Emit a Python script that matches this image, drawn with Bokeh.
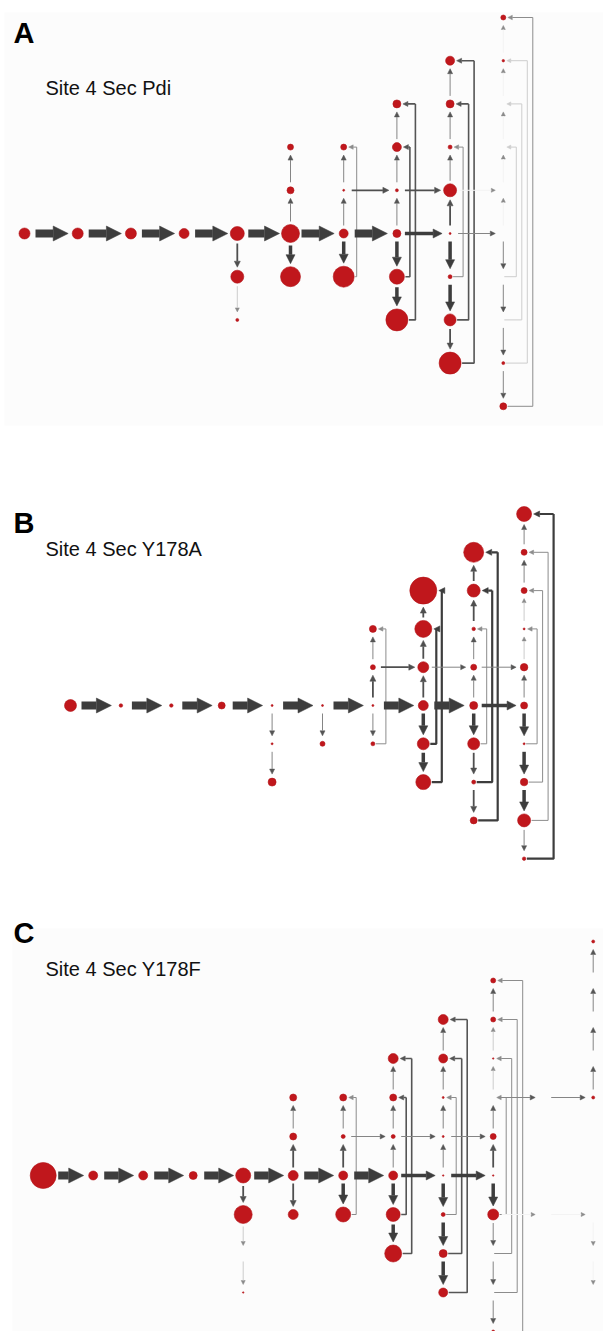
from bokeh.plotting import figure
from bokeh.models import ColumnDataSource, Arrow, NormalHead, Label, Range1d, BoxAnnotation
from bokeh.layouts import column
from bokeh.embed import file_html
from bokeh.resources import INLINE

# ---------------------------------------------------------------------------
# Transition networks: nodes sit on a (step column, row) grid, node size is the
# population, flows are weighted transitions, returns are feedback loops.
# Flow weight classes: xl > l > m > s > f > g (faint / ghost)
# ---------------------------------------------------------------------------

# Panel A - Site 4 Sec Pdi
A_node_col = [0, 1, 2, 3, 4, 4, 4, 5, 5, 5, 5, 6, 6, 6, 6, 7, 7, 7, 7, 7, 7,
              8, 8, 8, 8, 8, 8, 8, 8, 9, 9, 9, 9]
A_node_row = [0, 0, 0, 0, 0, 1, 2, 0, 1, -1, -2, 0, 1, -1, -2, 0, 1, 2, -1, -2, -3,
              -4, -3, -2, -1, 0, 1, 2, 3, -5, -4, 3, 4]
A_node_size = [11, 11, 11, 10, 14, 13, 3, 18, 20, 7, 6, 9, 21, 2, 6, 8, 15, 22, 3, 9, 8,
               9, 8, 4, 13, 2, 4, 12, 22, 5, 2.5, 3, 7]
A_flows = [
    (0, 0, 1, 0, "xl"), (1, 0, 2, 0, "xl"), (2, 0, 3, 0, "xl"), (3, 0, 4, 0, "xl"),
    (4, 0, 5, 0, "xl"), (5, 0, 6, 0, "xl"), (6, 0, 7, 0, "xl"), (7, 0, 8, 0, "l"),
    (8, 0, 9, 0, "s"),
    (6, -1, 7, -1, "m"), (7, -1, 8, -1, "m"), (8, -1, 9, -1, "g"),
    (4, 0, 4, 1, "m"), (4, 1, 4, 2, "f"),
    (5, 0, 5, 1, "l"), (5, 0, 5, -1, "s"), (5, -1, 5, -2, "s"),
    (6, 0, 6, 1, "l"), (6, 0, 6, -1, "s"), (6, -1, 6, -2, "s"),
    (7, 0, 7, 1, "l"), (7, 1, 7, 2, "l"), (7, 0, 7, -1, "s"), (7, -1, 7, -2, "s"),
    (7, -2, 7, -3, "s"),
    (8, 0, 8, 1, "l"), (8, 1, 8, 2, "l"), (8, 2, 8, 3, "m"), (8, 0, 8, -1, "m"),
    (8, -1, 8, -2, "s"), (8, -2, 8, -3, "s"), (8, -3, 8, -4, "s"),
    (9, 0, 9, 1, "s"), (9, 1, 9, 2, "s"), (9, 2, 9, 3, "s"), (9, 3, 9, 4, "s"),
    (9, 0, 9, -1, "g"), (9, -1, 9, -2, "g"), (9, -2, 9, -3, "g"), (9, -3, 9, -4, "g"),
    (9, -4, 9, -5, "g"),
]
A_returns = [
    (6, 1, -2, "s"),
    (7, 1, -2, "m"), (7, 2, -3, "m"),
    (8, 1, -2, "s"), (8, 2, -3, "m"), (8, 3, -4, "m"),
    (9, 1, -2, "f"), (9, 2, -3, "f"), (9, 3, -4, "f"), (9, 4, -5, "s"),
]

# Panel B - Site 4 Sec Y178A
B_node_col = [0, 1, 2, 3, 4, 4, 4, 5, 5, 6, 6, 6, 6, 7, 7, 7, 7, 7, 7,
              8, 8, 8, 8, 8, 8, 8, 8, 9, 9, 9, 9, 9, 9, 9, 9, 9, 9]
B_node_row = [0, 0, 0, 0, 0, 1, 2, 0, 1, 0, -1, -2, 1, -3, -2, -1, 0, 1, 2,
              -4, -3, -2, -1, 0, 1, 2, 3, -5, -4, -3, -2, -1, 0, 1, 2, 3, 4]
B_node_size = [12, 3.5, 3.5, 7, 2, 2, 8, 2, 5, 2, 5, 7, 4, 27, 17, 11, 10, 12, 15,
               20, 13, 3.5, 6, 8, 12, 4, 7, 15, 6, 6, 2, 7.5, 7, 2, 7.5, 13, 3.5]
B_flows = [
    (0, 0, 1, 0, "xl"), (1, 0, 2, 0, "xl"), (2, 0, 3, 0, "xl"), (3, 0, 4, 0, "xl"),
    (4, 0, 5, 0, "xl"), (5, 0, 6, 0, "xl"), (6, 0, 7, 0, "xl"), (7, 0, 8, 0, "xl"),
    (8, 0, 9, 0, "l"),
    (6, -1, 7, -1, "m"), (7, -1, 8, -1, "s"), (8, -1, 9, -1, "s"),
    (4, 0, 4, 1, "s"), (4, 1, 4, 2, "s"),
    (5, 0, 5, 1, "s"),
    (6, 0, 6, -1, "m"), (6, -1, 6, -2, "s"), (6, 0, 6, 1, "s"),
    (7, 0, 7, -1, "m"), (7, -1, 7, -2, "m"), (7, -2, 7, -3, "m"), (7, 0, 7, 1, "l"),
    (7, 1, 7, 2, "l"),
    (8, 0, 8, -1, "s"), (8, -1, 8, -2, "s"), (8, -2, 8, -3, "m"), (8, -3, 8, -4, "m"),
    (8, 0, 8, 1, "l"), (8, 1, 8, 2, "m"), (8, 2, 8, 3, "m"),
    (9, 0, 9, -1, "s"), (9, -1, 9, -2, "f"), (9, -2, 9, -3, "f"), (9, -3, 9, -4, "s"),
    (9, -4, 9, -5, "s"),
    (9, 0, 9, 1, "l"), (9, 1, 9, 2, "l"), (9, 2, 9, 3, "l"), (9, 3, 9, 4, "s"),
]
B_returns = [
    (6, 1, -2, "s"),
    (7, 1, -2, "l"), (7, 2, -3, "l"),
    (8, 1, -2, "s"), (8, 2, -3, "l"), (8, 3, -4, "l"),
    (9, 1, -2, "s"), (9, 2, -3, "s"), (9, 3, -4, "s"), (9, 4, -5, "l"),
]

# Panel C - Site 4 Sec Y178F
C_node_col = [0, 1, 2, 3, 4, 4, 4, 5, 5, 5, 5, 6, 6, 6, 6, 7, 7, 7, 7, 7, 7,
              8, 8, 8, 8, 8, 8, 8, 8, 9, 9, 9, 9, 9, 9, 9, 11, 11]
C_node_row = [0, 0, 0, 0, 0, 1, 3, 0, 1, -1, -2, -2, -1, 0, 1, -3, -2, -1, 0, 1, 2,
              -4, -3, -2, -1, 0, 1, 2, 3, -5, -4, -3, -1, 0, 1, 4, -6, -2]
C_node_size = [26, 9, 9, 8, 15, 18, 1.5, 10, 10, 7, 7, 7, 4, 9, 15, 10, 7, 4, 9, 14, 17,
               10, 9, 2, 2, 1.5, 4, 8, 9, 5, 5, 1.5, 6, 1.5, 11, 3, 3, 3]
C_flows = [
    (0, 0, 1, 0, "xl"), (1, 0, 2, 0, "xl"), (2, 0, 3, 0, "xl"), (3, 0, 4, 0, "xl"),
    (4, 0, 5, 0, "xl"), (5, 0, 6, 0, "xl"), (6, 0, 7, 0, "xl"), (7, 0, 8, 0, "l"),
    (8, 0, 9, 0, "l"),
    (6, -1, 7, -1, "s"), (7, -1, 8, -1, "s"), (8, -1, 9, -1, "s"),
    (9, -2, 10, -2, "s"), (10, -2, 11, -2, "s"),
    (9, 1, 10, 1, "g"), (10, 1, 11, 1, "g"),
    (4, 0, 4, 1, "m"), (4, 1, 4, 2, "f"), (4, 2, 4, 3, "f"),
    (5, 0, 5, 1, "m"), (5, 0, 5, -1, "m"), (5, -1, 5, -2, "s"),
    (6, 0, 6, 1, "l"), (6, 0, 6, -1, "m"), (6, -1, 6, -2, "s"),
    (7, 0, 7, 1, "l"), (7, 1, 7, 2, "l"), (7, 0, 7, -1, "s"), (7, -1, 7, -2, "s"),
    (7, -2, 7, -3, "s"),
    (8, 0, 8, 1, "l"), (8, 1, 8, 2, "l"), (8, 2, 8, 3, "l"), (8, 0, 8, -1, "s"),
    (8, -1, 8, -2, "s"), (8, -2, 8, -3, "s"), (8, -3, 8, -4, "s"),
    (9, 0, 9, -1, "m"), (9, -1, 9, -2, "s"), (9, -2, 9, -3, "f"), (9, -3, 9, -4, "f"),
    (9, -4, 9, -5, "s"),
    (9, 0, 9, 1, "l"), (9, 1, 9, 2, "s"), (9, 2, 9, 3, "s"), (9, 3, 9, 4, "s"),
    (11, -2, 11, -3, "s"), (11, -3, 11, -4, "s"), (11, -4, 11, -5, "s"),
    (11, -5, 11, -6, "s"),
    (11, 1, 11, 2, "g"), (11, 2, 11, 3, "g"),
]
C_returns = [
    (6, 1, -2, "s"),
    (7, 1, -2, "m"), (7, 2, -3, "m"),
    (8, 1, -2, "s"), (8, 2, -3, "m"), (8, 3, -4, "m"),
    (9, 1, -2, "s"), (9, 2, -3, "s"), (9, 3, -4, "s"), (9, 4, -5, "s"),
]

# ---------------------------------------------------------------------------
RED = "#c0171c"
DARK = "#3d3d3d"
FONT = "Liberation Sans"

FLOW_STYLE = {
    "xl": dict(lw=8.0, lc=DARK, hs=15, hc=DARK),
    "l": dict(lw=3.5, lc=DARK, hs=9, hc=DARK),
    "m": dict(lw=1.8, lc="#4f4f4f", hs=6, hc="#4f4f4f"),
    "s": dict(lw=1.0, lc="#858585", hs=5, hc="#555555"),
    "f": dict(lw=1.0, lc="#cccccc", hs=4, hc="#8a8a8a"),
    "g": dict(lw=1.0, lc="#f3f3f3", hs=4, hc="#8a8a8a"),
}
RETURN_STYLE = {
    "l": dict(lw=2.2, lc=DARK, hs=6),
    "m": dict(lw=1.6, lc="#555555", hs=5),
    "s": dict(lw=1.0, lc="#8c8c8c", hs=4.5),
    "f": dict(lw=1.0, lc="#cdcdcd", hs=4),
}


def sign(v):
    return (v > 0) - (v < 0)


def make_panel(height, col0_px, col_px, row0_px, row_px,
               node_col, node_row, node_size, flows, returns,
               letter, title, letter_y, title_y, shade=None):
    fig = figure(width=603, height=height,
                 x_range=Range1d(-col0_px / col_px, (603 - col0_px) / col_px),
                 y_range=Range1d((height - row0_px) / row_px, -row0_px / row_px),
                 output_backend="svg", toolbar_location=None, min_border=0,
                 x_axis_location=None, y_axis_location=None,
                 outline_line_color=None, background_fill_color="white",
                 border_fill_color="white")
    fig.grid.visible = False
    fig.axis.visible = False

    def sx(px):
        return (px - col0_px) / col_px

    def sy(py):
        return (py - row0_px) / row_px

    if shade is not None:
        l, t, r, b = shade
        fig.add_layout(BoxAnnotation(left=sx(l), right=sx(r), top=sy(t), bottom=sy(b),
                                     fill_color="#fcfcfc", fill_alpha=1.0,
                                     line_color=None, level="underlay"))

    radius = {(c, r): s / 2 for c, r, s in zip(node_col, node_row, node_size)}

    # feedback loops: right from the lower node, up, then back left into the upper node
    loop_xs, loop_ys, loop_c, loop_w = [], [], [], []
    loop_heads = {}
    for c, rf, rt, w in returns:
        st = RETURN_STYLE[w]
        off = (13 + 5.5 * (rf - 1)) / col_px
        ra = radius.get((c, rf), 0)
        loop_xs.append([c + (ra + 1) / col_px, c + off, c + off])
        loop_ys.append([rf, rf, rt])
        loop_c.append(st["lc"])
        loop_w.append(st["lw"])
        tip = c + (max(radius.get((c, rt), 0), 1.5) + 2) / col_px
        loop_heads.setdefault(w, []).append((c + off, rt, tip, rt))
    fig.multi_line(xs="xs", ys="ys", line_color="color", line_width="width",
                   source=ColumnDataSource(dict(xs=loop_xs, ys=loop_ys,
                                                color=loop_c, width=loop_w)))
    for w, segs in loop_heads.items():
        st = RETURN_STYLE[w]
        src = ColumnDataSource(dict(x0=[s[0] for s in segs], y0=[s[1] for s in segs],
                                    x1=[s[2] for s in segs], y1=[s[3] for s in segs]))
        fig.add_layout(Arrow(source=src, x_start="x0", y_start="y0", x_end="x1", y_end="y1",
                             line_color=st["lc"], line_width=st["lw"],
                             end=NormalHead(size=st["hs"], fill_color=st["lc"],
                                            line_color=st["lc"], line_width=0.5)))

    # transitions between neighbouring nodes
    groups = {}
    for c0, r0, c1, r1, w in flows:
        dx, dy = sign(c1 - c0), sign(r1 - r0)
        ra = radius.get((c0, r0), 0)
        rb = radius.get((c1, r1), 0)
        if w == "xl":
            g0, g1 = max(ra + 2, 11), max(rb + 2, 9.5)
        else:
            g0, g1 = max(ra + 3, 8), max(rb + 3, 8)
        groups.setdefault(w, []).append((c0 + dx * g0 / col_px, r0 + dy * g0 / row_px,
                                         c1 - dx * g1 / col_px, r1 - dy * g1 / row_px))
    for w in ["g", "f", "s", "m", "l", "xl"]:
        if w not in groups:
            continue
        st = FLOW_STYLE[w]
        segs = groups[w]
        src = ColumnDataSource(dict(x0=[s[0] for s in segs], y0=[s[1] for s in segs],
                                    x1=[s[2] for s in segs], y1=[s[3] for s in segs]))
        fig.add_layout(Arrow(source=src, x_start="x0", y_start="y0", x_end="x1", y_end="y1",
                             line_color=st["lc"], line_width=st["lw"],
                             end=NormalHead(size=st["hs"], fill_color=st["hc"],
                                            line_color=st["hc"], line_width=0.5)))

    fig.scatter(x="c", y="r", size="s", marker="circle",
                source=ColumnDataSource(dict(c=node_col, r=node_row, s=node_size)),
                fill_color=RED, line_color="#b3141a", line_width=0.6)

    fig.add_layout(Label(x=sx(13), y=sy(letter_y), text=letter, text_font=FONT,
                         text_font_style="bold", text_font_size="29px",
                         text_color="black", text_baseline="alphabetic"))
    fig.add_layout(Label(x=sx(45), y=sy(title_y), text=title, text_font=FONT,
                         text_font_size="20px", text_color="#111111",
                         text_baseline="alphabetic"))
    return fig


pA = make_panel(472, 24, 53.2, 233, 43.2, A_node_col, A_node_row, A_node_size,
                A_flows, A_returns, "A", "Site 4 Sec Pdi", 32, 87,
                shade=(4, 12, 603, 425))
pB = make_panel(410, 70, 50.4, 233, 38.3, B_node_col, B_node_row, B_node_size,
                B_flows, B_returns, "B", "Site 4 Sec Y178A", 50, 76)
pC = make_panel(449, 42.7, 50.0, 293, 39.0, C_node_col, C_node_row, C_node_size,
                C_flows, C_returns, "C", "Site 4 Sec Y178F", 50, 86,
                shade=(12, 46, 603, 449))

layout = column(pA, pB, pC, spacing=0)
open("out.html", "w").write(file_html(layout, INLINE))
